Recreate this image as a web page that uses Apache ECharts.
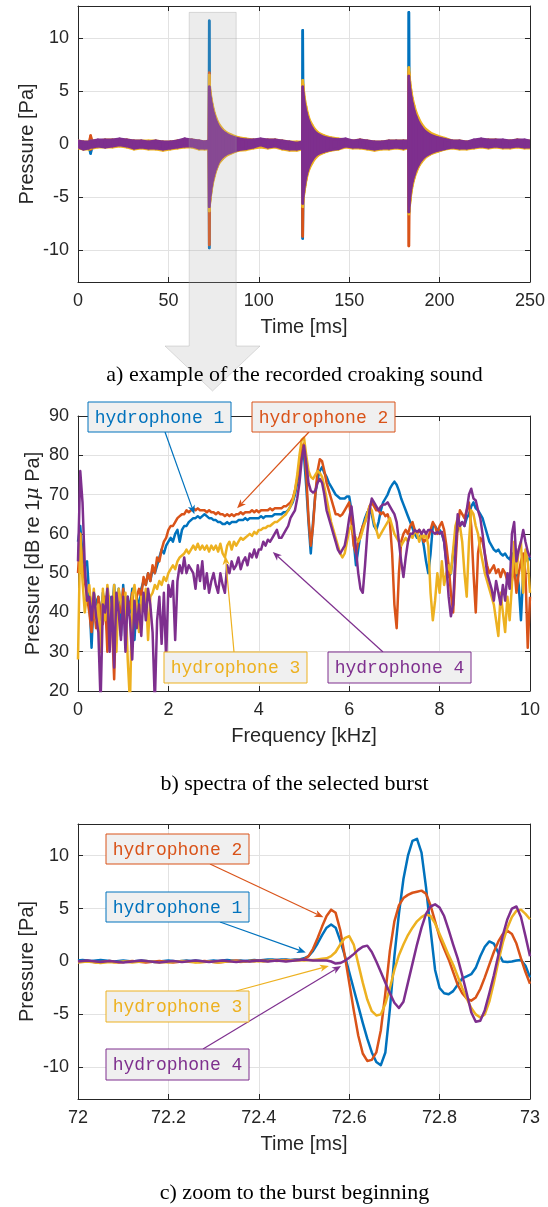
<!DOCTYPE html>
<html><head><meta charset="utf-8">
<script src="https://cdn.jsdelivr.net/npm/echarts@6.0.0/dist/echarts.min.js"></script>
<style>html,body{margin:0;padding:0;background:#fff}#c{width:548px;height:1207px}</style>
</head><body><div id="c"></div>
<script>
// ---------------- Panel a: envelopes of the recorded croaking sound ----------------
const TA = [0,3,6,7,8,11,15,19,23,27,31,35,39,43,47,51,55,59,63,67,70,72.4,
72.6,72.8,73.2,73.8,74.5,75.5,76.5,78,80,82,85,89,93,
97,101,105,109,113,117,121,124.1,
124.3,124.5,124.9,125.5,126.2,127,128,129.5,131,133,136,140,144,
148,152,156,160,164,168,172,176,180,182.8,
183,183.2,183.6,184.2,185,186,187,188.5,190,192,195,199,203,
207,211,215,219,223,227,231,235,239,243,247,250];

const H1_UPPER = [0.2,0.1,0.1,0.2,0.2,0.3,0.3,0.3,0.4,0.3,0.2,0.2,0.1,0.2,0.1,0.1,0.2,0.4,0.3,0.2,0.1,0.2,
11.6,5.2,4.6,4.0,3.4,2.7,2.2,1.7,1.3,1.0,0.75,0.55,0.45,
0.3,0.4,0.3,0.3,0.2,0.1,0,0.1,
10.7,5.2,4.5,3.8,3.2,2.6,2.1,1.6,1.2,0.95,0.7,0.5,0.45,
0.4,0.2,0.3,0.2,0.1,0.1,0.2,0.2,0.2,0.2,
12.4,6.2,5.5,4.8,4.0,3.3,2.8,2.2,1.7,1.3,0.95,0.65,0.5,
0.2,0.2,0.1,0.3,0.4,0.3,0.3,0.3,0.2,0.3,0.3,0.2];
const H1_LOWER = [-0.2,-0.4,-0.3,-0.9,-0.2,-0.1,-0.2,-0.1,0,-0.1,-0.3,-0.2,-0.3,-0.3,-0.4,-0.3,-0.2,-0.1,-0.1,-0.3,-0.3,-0.3,
-9.8,-5.6,-5.0,-4.2,-3.5,-2.8,-2.3,-1.7,-1.3,-1.0,-0.8,-0.55,-0.45,
-0.2,0,-0.2,-0.1,-0.3,-0.4,-0.4,-0.3,
-8.9,-5.2,-4.6,-3.9,-3.2,-2.6,-2.1,-1.6,-1.2,-0.95,-0.75,-0.55,-0.45,
-0.1,-0.2,-0.2,-0.3,-0.4,-0.3,-0.3,-0.2,-0.3,-0.2,
-6.5,-6.0,-5.3,-4.4,-3.7,-3.0,-2.5,-2.0,-1.6,-1.2,-0.9,-0.65,-0.45,
-0.2,-0.3,-0.3,-0.2,-0.1,-0.2,-0.1,-0.2,-0.2,-0.1,-0.2,-0.2];

const H2_UPPER = [0.2,0.1,0.1,0.8,0.2,0.3,0.3,0.3,0.4,0.3,0.2,0.2,0.1,0.2,0.1,0.1,0.2,0.4,0.3,0.2,0.1,0.2,
6.7,5.3,4.7,4.0,3.4,2.7,2.2,1.7,1.3,1.0,0.75,0.55,0.45,
0.3,0.4,0.3,0.3,0.2,0.1,0,0.1,
5.6,5.1,4.5,3.8,3.2,2.6,2.1,1.6,1.2,0.95,0.7,0.5,0.45,
0.4,0.2,0.3,0.2,0.1,0.1,0.2,0.2,0.2,0.2,
6.8,6.2,5.5,4.8,4.0,3.3,2.8,2.2,1.7,1.3,0.95,0.65,0.5,
0.2,0.2,0.1,0.3,0.4,0.3,0.3,0.3,0.2,0.3,0.3,0.2];
const H2_LOWER = [-0.2,-0.4,-0.3,-0.5,-0.2,-0.1,-0.2,-0.1,0,-0.1,-0.3,-0.2,-0.3,-0.3,-0.4,-0.3,-0.2,-0.1,-0.1,-0.3,-0.3,-0.3,
-9.5,-5.7,-5.0,-4.2,-3.5,-2.8,-2.3,-1.7,-1.3,-1.0,-0.8,-0.55,-0.45,
-0.2,0,-0.2,-0.1,-0.3,-0.4,-0.4,-0.3,
-8.7,-5.2,-4.6,-3.9,-3.2,-2.6,-2.1,-1.6,-1.2,-0.95,-0.75,-0.55,-0.45,
-0.1,-0.2,-0.2,-0.3,-0.4,-0.3,-0.3,-0.2,-0.3,-0.2,
-9.6,-6.0,-5.3,-4.4,-3.7,-3.0,-2.5,-2.0,-1.6,-1.2,-0.9,-0.65,-0.45,
-0.2,-0.3,-0.3,-0.2,-0.1,-0.2,-0.1,-0.2,-0.2,-0.1,-0.2,-0.2];

const H3_UPPER = [0.3,0.2,0.2,0.3,0.3,0.3,0.4,0.4,0.4,0.4,0.3,0.3,0.3,0.3,0.2,0.2,0.3,0.4,0.4,0.3,0.2,0.3,
6.5,5.6,4.9,4.2,3.6,2.9,2.4,1.85,1.4,1.1,0.85,0.6,0.5,
0.4,0.4,0.4,0.4,0.3,0.2,0.2,0.2,
6.0,5.6,4.9,4.1,3.5,2.9,2.3,1.8,1.4,1.05,0.8,0.6,0.5,
0.4,0.3,0.4,0.3,0.2,0.2,0.3,0.3,0.3,0.3,
7.2,6.6,5.9,5.1,4.3,3.6,3.0,2.4,1.9,1.45,1.05,0.75,0.55,
0.3,0.3,0.2,0.3,0.4,0.4,0.4,0.3,0.3,0.4,0.3,0.3];
const H3_LOWER = [-0.4,-0.5,-0.5,-0.4,-0.4,-0.3,-0.3,-0.3,-0.2,-0.3,-0.5,-0.4,-0.5,-0.5,-0.6,-0.5,-0.4,-0.3,-0.3,-0.5,-0.5,-0.5,
-6.3,-5.8,-5.2,-4.4,-3.7,-3.0,-2.4,-1.8,-1.4,-1.1,-0.85,-0.6,-0.55,
-0.4,-0.3,-0.4,-0.3,-0.5,-0.6,-0.6,-0.5,
-5.9,-5.4,-4.8,-4.1,-3.4,-2.8,-2.3,-1.8,-1.4,-1.05,-0.8,-0.6,-0.5,
-0.3,-0.4,-0.4,-0.5,-0.6,-0.5,-0.5,-0.4,-0.5,-0.4,
-6.6,-6.2,-5.6,-4.7,-3.9,-3.2,-2.7,-2.1,-1.7,-1.3,-0.95,-0.7,-0.5,
-0.4,-0.5,-0.5,-0.4,-0.3,-0.4,-0.3,-0.4,-0.4,-0.3,-0.4,-0.4];

const H4_UPPER = [0.3,0.2,0.2,0.3,0.3,0.4,0.4,0.4,0.5,0.4,0.3,0.3,0.2,0.3,0.2,0.2,0.3,0.5,0.4,0.3,0.2,0.3,
5.4,5.0,4.4,3.8,3.2,2.6,2.1,1.6,1.2,0.95,0.7,0.5,0.4,
0.4,0.5,0.4,0.4,0.3,0.2,0.1,0.2,
5.4,4.9,4.3,3.6,3.0,2.5,2.0,1.5,1.15,0.9,0.65,0.5,0.42,
0.5,0.3,0.4,0.3,0.2,0.2,0.3,0.3,0.3,0.3,
6.4,5.8,5.2,4.5,3.8,3.1,2.6,2.0,1.6,1.2,0.85,0.6,0.45,
0.3,0.3,0.2,0.4,0.5,0.4,0.4,0.4,0.3,0.4,0.4,0.3];
const H4_LOWER = [-0.3,-0.5,-0.4,-0.3,-0.3,-0.2,-0.3,-0.2,-0.1,-0.2,-0.4,-0.3,-0.4,-0.4,-0.5,-0.4,-0.3,-0.2,-0.2,-0.4,-0.4,-0.4,
-5.9,-5.4,-4.8,-4.0,-3.4,-2.7,-2.2,-1.6,-1.2,-0.95,-0.75,-0.55,-0.45,
-0.3,-0.1,-0.3,-0.2,-0.4,-0.5,-0.5,-0.4,
-5.6,-5.0,-4.4,-3.7,-3.0,-2.5,-2.0,-1.5,-1.15,-0.9,-0.7,-0.55,-0.45,
-0.2,-0.3,-0.3,-0.4,-0.5,-0.4,-0.4,-0.3,-0.4,-0.3,
-6.4,-5.8,-5.0,-4.2,-3.5,-2.9,-2.4,-1.9,-1.5,-1.15,-0.85,-0.6,-0.45,
-0.3,-0.4,-0.4,-0.3,-0.2,-0.3,-0.2,-0.3,-0.3,-0.2,-0.3,-0.3];

// ---------------- Panel b: spectra (0 to 10 kHz, 0.05 kHz bins) ----------------
const FREQ_START = 0, FREQ_STEP = 0.05, FREQ_COUNT = 201;
const FREQ = Array.from({length: FREQ_COUNT}, (_, i) => +(FREQ_START + i * FREQ_STEP).toFixed(2));

const SPEC_H1 = [58,62,55,52,53,44,31,45,42,44,38,45,41,35,44,40,47,38,46,34,
47,36,44,40,46,33,44,41,46,48,47,50,48,51,50,52,54,56,55,57,
58,59,58,60,61,58,61,62,62,63,63.5,64,64,64.5,64,64.5,65,64.5,64,64,
63.5,63.5,63,63,62.5,62.5,63,62.5,63,63,63,63.5,63.5,63.5,64,63.5,64,64,64,64,
64,64.5,64,64.5,64.5,64.5,64.5,65,65,65,65,65.5,65.5,66,67,68,70,73,77,81,
80,72,63,55,63,70,74,76,77,75.5,74.5,73,72,71,70,69.5,69,69,69,69.5,
69.5,66,58,52,56,60,62,64,65.5,66,65,62,61,63,66,68,69,70,71.5,72.5,
73.3,72.5,71,69,67.5,66,64.5,63,61.5,60,59,59,60,57,53,50,55,62,62,61,
61,60,58,53,49,50,55,59,61,62,63,62,64,65,67,68,66.5,66,65,64,
62,60,58,57,56,55.5,56,55,54.5,55,54,53.5,55,53,51,47,38,50,55,53,
54];
const SPEC_H2 = [50,60,52,48,44,40,35,42,36,44,40,37,44,30,42,38,23,44,42,40,
46,36,43,41,45,38,44,46,44,49,47,50,48,52,50,54,53,56,58,59,
61,62,62,63,64,64.5,65,65,66,65.5,66,66.5,66,66.5,66,66,66,65.5,66,65.5,
65.5,65,65.5,65,65,64.5,65,64.5,65,64.5,65,65,65.5,65,65.5,65.5,65.5,66,65.5,66,
65.5,66,66,66,66,66.5,66,66.5,66.5,66.5,66.5,67,67,67.5,68,69,71,74,78,82,
83,75,64,57,62,70,76,79,78.5,76,73,71,69,67,65,65,64.5,65,66,67,
68,63,57,55,58,60,62,63,65,67,68,67,66,66,65,65.5,64.5,65,63,55,
42,36,50,58,60,61,60,62,63,61,60,61,60,58,58.5,59,61,63,62,60,
62,63,61,57,52,45,40,52,62,66,65,64,66,68,62,50,40,55,59,58,
55,52,50,51,52,50,51,49,51,50,48,50,48,52,45,50,53,55,50,31,
44];
const SPEC_H3 = [28,60,48,40,45,47,40,46,38,42,30,46,38,47,42,35,47,30,46,43,
40,45,28,17,44,47,42,35,44,42,46,33,44,45,47,46,48,47,49,48,
50,51,52,51,53,54,54.5,55,56,55,56,57,56,57.5,56,57,56,57,55.5,57,
56,57,55.5,57.5,55,54,57,58,56,58,57,58,59,58.5,59,59.5,60,59.5,60.5,60,
61,61,61.5,61.5,62,62,62.5,63,63,63.5,64,64.5,65,66,67,68.5,71,75,80,84,
84.5,80,76,74.5,74,75,76,75.5,74.5,72,69,66,63,61,59,57,55,54,55,58,
61,62,60,59,58,59,61,63,65,67,66,63,61,59,60,61,62,63,64,62,
60,59,58,57,58,59,58,60,59,61,60,58,60,59,60,57,45,38,43,50,
45,53,47,50,52,50,56,62,64,62,58,50,44,58,66,65,62,60,56,53,
50,48,46,44,42,38,34,45,40,35,44,38,47,58,50,56,58,45,56,53,
45];
const SPEC_H4 = [53,76,68,52,43,44,38,45,39,35,17,42,40,46,30,44,26,45,40,33,
44,30,44,38,28,43,36,42,34,45,38,46,42,35,17,38,44,32,45,28,
47,44,48,33,48,52,50,54,50,52,51,50,46,52,48,53,46,50,45,48,
50,47,45,50,47,45,52,50,53,51,52,54,51,53,54,52,55,54,56,54,
56,56,58,57,58.5,58,59,60,61,59,59,60,61,62,64,65,66,69,73,79,
82.5,78,73,71,70.5,71,73,74,73,70,66,64,62,60,58,56,55,56,57,60,
64,67,62,56,50,46,45,52,60,66,69,68,67,66,67,67.5,67.5,68,67,66,
65,63,58,53,49,54,58,60,60,61,60.5,61,60,61,60,61,61,60.5,60,60.5,
60,60.5,58,52,44,39,42,55,65,62,63,62,66,70,71.5,69,68.5,66,64,60,
55,50,48,46,43,48,45,42,47,43,50,46,60,63,53,56,58,61,58,55.5,
54];

// ---------------- Panel c: zoom to the burst beginning (72 to 73 ms, 0.01 ms) ----------------
const TC_START = 72, TC_STEP = 0.01, TC_COUNT = 101;
const TC = Array.from({length: TC_COUNT}, (_, i) => +(TC_START + i * TC_STEP).toFixed(2));

const ZOOM_H1 = [0.1,0.15,0.1,0.05,0.1,0.15,0.1,0.05,0,0.05, 0.1,0.05,0,0.05,0.1,0.05,0,-0.05,0,0.05,
0.1,0.05,0,0.05,0.1,0.05,0.1,0.05,0,0.05, 0.1,0.05,0.1,0.15,0.1,0.05,0.1,0.05,0.1,0.15,
0.1,0.15,0.2,0.2,0.15,0.2,0.2,0.15,0.2,0.2,
0.3,0.5,1.0,1.7,2.5,3.2,3.5,3.2,2.0,0.6, -1.0,-2.6,-4.2,-5.8,-7.3,-8.6,-9.5,-9.8,-8.6,-4.5,
0.5,4.5,7.8,10.0,11.4,11.6,10.3,7.0,3.0,-0.8, -2.5,-3.0,-3.1,-2.8,-2.2,-1.6,-1.4,-1.2,-0.6,0.5,
1.4,1.9,1.7,0.8,0.0,-0.05,0.0,0.1,0.15,-0.4, -1.5];
const ZOOM_H2 = [-0.05,0,0.05,0,-0.1,-0.05,0,0.05,-0.05,-0.1, -0.05,0,0.05,0,-0.05,-0.1,-0.05,0,0.05,0,
-0.05,-0.1,-0.05,0,0.05,0,-0.05,0,0.05,0, -0.05,-0.1,-0.05,0,0.05,0.1,0.05,0,0.05,0.1,
0.05,0.1,0.05,0.1,0.15,0.1,0.15,0.1,0.15,0.15,
0.2,0.5,1.2,2.2,3.3,4.3,4.9,4.6,3.0,0.6, -2.0,-4.6,-7.0,-8.7,-9.4,-9.3,-8.6,-6.5,-3.0,1.0,
3.8,5.3,6.0,6.3,6.5,6.6,6.7,6.4,5.3,3.8, 2.3,1.2,0.2,-1.0,-2.2,-3.0,-3.5,-3.7,-3.4,-2.6,
-1.5,-0.3,0.9,1.9,2.6,2.9,2.6,1.7,0.3,-1.0, -2.1];
const ZOOM_H3 = [-0.1,-0.05,0,-0.05,-0.1,-0.15,-0.1,-0.05,-0.1,-0.05, 0,-0.05,-0.1,-0.05,0,0.05,0,-0.05,-0.1,-0.05,
-0.1,-0.05,0,0.05,0,-0.05,-0.1,-0.1,-0.05,0, -0.05,-0.1,-0.05,0,0.05,0,-0.05,0,0.05,0,
0.05,0,0.05,0.1,0.05,0.1,0.05,0.1,0.1,0.15, 0.1,0.15,0.15,0.2,0.25,
0.3,0.5,0.9,1.6,2.2,2.4,1.6,-0.2,-2.0,-3.6, -4.7,-5.1,-5.0,-4.0,-2.5,-0.8,0.6,1.6,2.5,3.2,
3.8,4.2,4.45,4.3,3.6,2.6,1.6,0.6,-0.3,-1.4, -2.5,-3.5,-4.4,-5.0,-5.3,-5.0,-3.8,-2.0,0.0,1.8,
3.2,4.2,4.8,4.9,4.5,4.0];
const ZOOM_H4 = [0,0.05,0.1,0.05,0,-0.05,0,0.05,0,-0.05, -0.1,-0.05,0,0.05,0.1,0.05,0,-0.05,-0.1,-0.05,
0,0.05,0,-0.05,0,0.05,0.1,0.05,0,-0.05, 0,0.05,0.1,0.05,0,-0.05,0,0.05,0,0.05,
0.1,0.05,0,0.05,0.1,0.05,0,0.05,0.1,0.15, 0.2,0.15,0.1,0.1,0.1,
0.1,0.0,-0.2,-0.15,0.05,0.35,0.7,1.1,1.4,1.5, 0.9,0.0,-1.0,-2.0,-3.0,-3.9,-4.4,-3.8,-2.0,-0.2,
1.6,3.2,4.5,5.2,5.4,5.1,4.3,3.0,1.6,0.3, -1.3,-3.0,-4.8,-5.7,-5.6,-4.6,-3.0,-1.3,0.6,2.5,
4.0,5.0,5.2,4.2,2.4,0.5];

const LABELS = ['hydrophone 1','hydrophone 2','hydrophone 3','hydrophone 4'];
const COLORS = ['#0072BD','#D95319','#EDB120','#7E2F8E'];
const CAPTIONS = ['a) example of the recorded croaking sound','b) spectra of the selected burst','c) zoom to the burst beginning'];

// ---------------- chart ----------------
const AXC = '#262626', GRIDC = '#e2e2e2';
const SANS = '"Liberation Sans", Arial, sans-serif';
const GRIDS = [
  {left: 78, top: 6, width: 452, height: 276},
  {left: 78, top: 416, width: 452, height: 275},
  {left: 78, top: 824, width: 452, height: 275}
];
function xAxisDef(g, min, max, interval, name, top) {
  return {
    type: 'value', gridIndex: g, min, max, interval, position: top ? 'top' : 'bottom',
    name: top ? '' : name, nameLocation: 'middle', nameGap: 35, nameMoveOverlap: false,
    nameTextStyle: {fontFamily: SANS, fontSize: 20, color: AXC},
    axisLine: {show: true, onZero: false, lineStyle: {color: AXC, width: 1}},
    axisTick: {show: true, inside: true, length: 5, lineStyle: {color: AXC}},
    axisLabel: {show: !top, margin: 10, fontFamily: SANS, fontSize: 18, color: AXC},
    splitLine: {show: !top, lineStyle: {color: GRIDC, width: 1}}
  };
}
function yAxisDef(g, min, max, interval, name, gap, right) {
  const ax = {
    type: 'value', gridIndex: g, min, max, position: right ? 'right' : 'left',
    name: right ? '' : name, nameLocation: 'middle', nameGap: gap, nameMoveOverlap: false,
    nameTextStyle: {fontFamily: SANS, fontSize: 20, color: AXC,
      rich: {mu: {fontFamily: '"DejaVu Serif", serif', fontStyle: 'italic', fontSize: 19, color: AXC}}},
    axisLine: {show: true, onZero: false, lineStyle: {color: AXC, width: 1}},
    axisTick: {show: true, inside: true, length: 5, lineStyle: {color: AXC}},
    axisLabel: {show: !right, margin: 9, fontFamily: SANS, fontSize: 18, color: AXC, showMinLabel: false, showMaxLabel: false},
    splitLine: {show: !right, lineStyle: {color: GRIDC, width: 1}}
  };
  if (interval != null) { ax.interval = interval; ax.axisLabel.showMinLabel = true; ax.axisLabel.showMaxLabel = true; }
  return ax;
}

const series = [];
// panel a: each hydrophone as a filled envelope band (upper/lower), drawn segment by segment
const BANDS = [[H1_UPPER, H1_LOWER],[H2_UPPER, H2_LOWER],[H3_UPPER, H3_LOWER],[H4_UPPER, H4_LOWER]];
BANDS.forEach(([up, lo], k) => {
  const color = COLORS[k];
  series.push({
    type: 'custom', name: LABELS[k], xAxisIndex: 0, yAxisIndex: 0, silent: true, clip: true,
    encode: {x: [0, 3], y: [1, 2, 4, 5]},
    data: TA.slice(0, -1).map((t, i) => [t, up[i], lo[i], TA[i + 1], up[i + 1], lo[i + 1]]),
    renderItem: function (params, api) {
      const a = api.coord([api.value(0), api.value(1)]);
      const b = api.coord([api.value(3), api.value(4)]);
      const c = api.coord([api.value(3), api.value(5)]);
      const d = api.coord([api.value(0), api.value(2)]);
      return {type: 'polygon', shape: {points: [a, b, c, d]},
        style: {fill: color, stroke: color, lineWidth: 2.6, lineJoin: 'round'}};
    }
  });
});
// panel b
[SPEC_H1, SPEC_H2, SPEC_H3, SPEC_H4].forEach((arr, k) => {
  series.push({type: 'line', name: LABELS[k], xAxisIndex: 1, yAxisIndex: 1, data: FREQ.map((f, i) => [f, arr[i]]),
    showSymbol: false, lineStyle: {color: COLORS[k], width: 2.5, join: 'round'}, silent: true});
});
// panel c
[ZOOM_H1, ZOOM_H2, ZOOM_H3, ZOOM_H4].forEach((arr, k) => {
  series.push({type: 'line', name: LABELS[k], xAxisIndex: 2, yAxisIndex: 2, data: TC.map((t, i) => [t, arr[i]]),
    showSymbol: false, lineStyle: {color: COLORS[k], width: 2.5, join: 'round'}, silent: true});
});

const chart = echarts.init(document.getElementById('c'), null, {renderer: 'canvas'});
chart.setOption({
  animation: false,
  backgroundColor: '#fff',
  grid: GRIDS,
  xAxis: [
    xAxisDef(0, 0, 250, 50, 'Time [ms]'),
    xAxisDef(1, 0, 10, 2, 'Frequency [kHz]'),
    xAxisDef(2, 72, 73, 0.2, 'Time [ms]'),
    xAxisDef(0, 0, 250, 50, '', true),
    xAxisDef(1, 0, 10, 2, '', true),
    xAxisDef(2, 72, 73, 0.2, '', true)
  ],
  yAxis: [
    yAxisDef(0, -13, 13, null, 'Pressure [Pa]', 41),
    yAxisDef(1, 20, 90, 10, 'Pressure [dB re 1{mu|μ} Pa]', 35),
    yAxisDef(2, -13, 13, null, 'Pressure [Pa]', 41),
    yAxisDef(0, -13, 13, null, '', 0, true),
    yAxisDef(1, 20, 90, 10, '', 0, true),
    yAxisDef(2, -13, 13, null, '', 0, true)
  ],
  series
});

// ---------------- annotations ----------------
function arrow(p0, p1, color) {
  const dx = p1[0] - p0[0], dy = p1[1] - p0[1], L = Math.hypot(dx, dy), ux = dx / L, uy = dy / L;
  const hl = 9, hw = 3.6, back = 6.5;
  const bx = p1[0] - ux * hl, by = p1[1] - uy * hl;
  const mx = p1[0] - ux * back, my = p1[1] - uy * back;
  return [
    {type: 'line', z: 120, shape: {x1: p0[0], y1: p0[1], x2: mx, y2: my}, style: {stroke: color, lineWidth: 1.2}},
    {type: 'polygon', z: 121, shape: {points: [p1, [bx - uy * hw, by + ux * hw], [mx, my], [bx + uy * hw, by - ux * hw]]}, style: {fill: color}}
  ];
}
function box(x0, y0, x1, y1, k) {
  return [
    {type: 'rect', z: 130, shape: {x: x0, y: y0, width: x1 - x0, height: y1 - y0}, style: {fill: '#f0f0f0', stroke: COLORS[k], lineWidth: 1}},
    {type: 'text', z: 131, style: {x: (x0 + x1) / 2, y: (y0 + y1) / 2 + 1, text: LABELS[k], fill: COLORS[k],
      font: '18px "Liberation Mono", monospace', align: 'center', verticalAlign: 'middle', textAlign: 'center', textVerticalAlign: 'middle'}}
  ];
}
const px = (g, v) => chart.convertToPixel({gridIndex: g}, v);
const graphics = [];
// selection arrow (semi transparent)
const r0 = px(0, [61.5, 12.4]), r1 = px(0, [87.5, 12.4]);
graphics.push({type: 'polygon', z: 100, shape: {points: [[r0[0], r0[1]], [r1[0], r1[1]], [r1[0], 346], [260, 346], [212.5, 391], [165, 346], [r0[0], 346]]},
  style: {fill: 'rgba(170,170,170,0.22)', stroke: 'rgba(150,150,150,0.3)', lineWidth: 1}});
// captions
[[375, 0], [784, 1], [1193, 2]].forEach(([y, i]) => graphics.push({type: 'text', z: 140,
  style: {x: 294.5, y, text: CAPTIONS[i], fill: '#000', font: '22px "Liberation Serif", serif', align: 'center', verticalAlign: 'middle', textAlign: 'center', textVerticalAlign: 'middle'}}));
// panel b labels
graphics.push(...arrow([165, 432], px(1, [2.575, 65.0]), COLORS[0]));
graphics.push(...arrow([309, 432], px(1, [3.52, 66.5]), COLORS[1]));
graphics.push(...arrow([234, 652], px(1, [3.26, 54.4]), COLORS[2]));
graphics.push(...arrow([383, 652], px(1, [4.31, 55.4]), COLORS[3]));
graphics.push(...box(88, 402, 231, 432, 0));
graphics.push(...box(252, 402, 395, 432, 1));
graphics.push(...box(164, 652, 307, 683, 2));
graphics.push(...box(328, 652, 471, 683, 3));
// panel c labels
graphics.push(...arrow([210, 864], px(2, [72.543, 4.18]), COLORS[1]));
graphics.push(...arrow([220, 922], px(2, [72.504, 0.85]), COLORS[0]));
graphics.push(...arrow([236, 991], px(2, [72.555, -0.42]), COLORS[2]));
graphics.push(...arrow([203, 1049], px(2, [72.582, -0.42]), COLORS[3]));
graphics.push(...box(106, 834, 249, 864, 1));
graphics.push(...box(106, 892, 249, 922, 0));
graphics.push(...box(106, 991, 249, 1022, 2));
graphics.push(...box(106, 1049, 249, 1080, 3));
chart.setOption({graphic: graphics});
</script></body></html>
